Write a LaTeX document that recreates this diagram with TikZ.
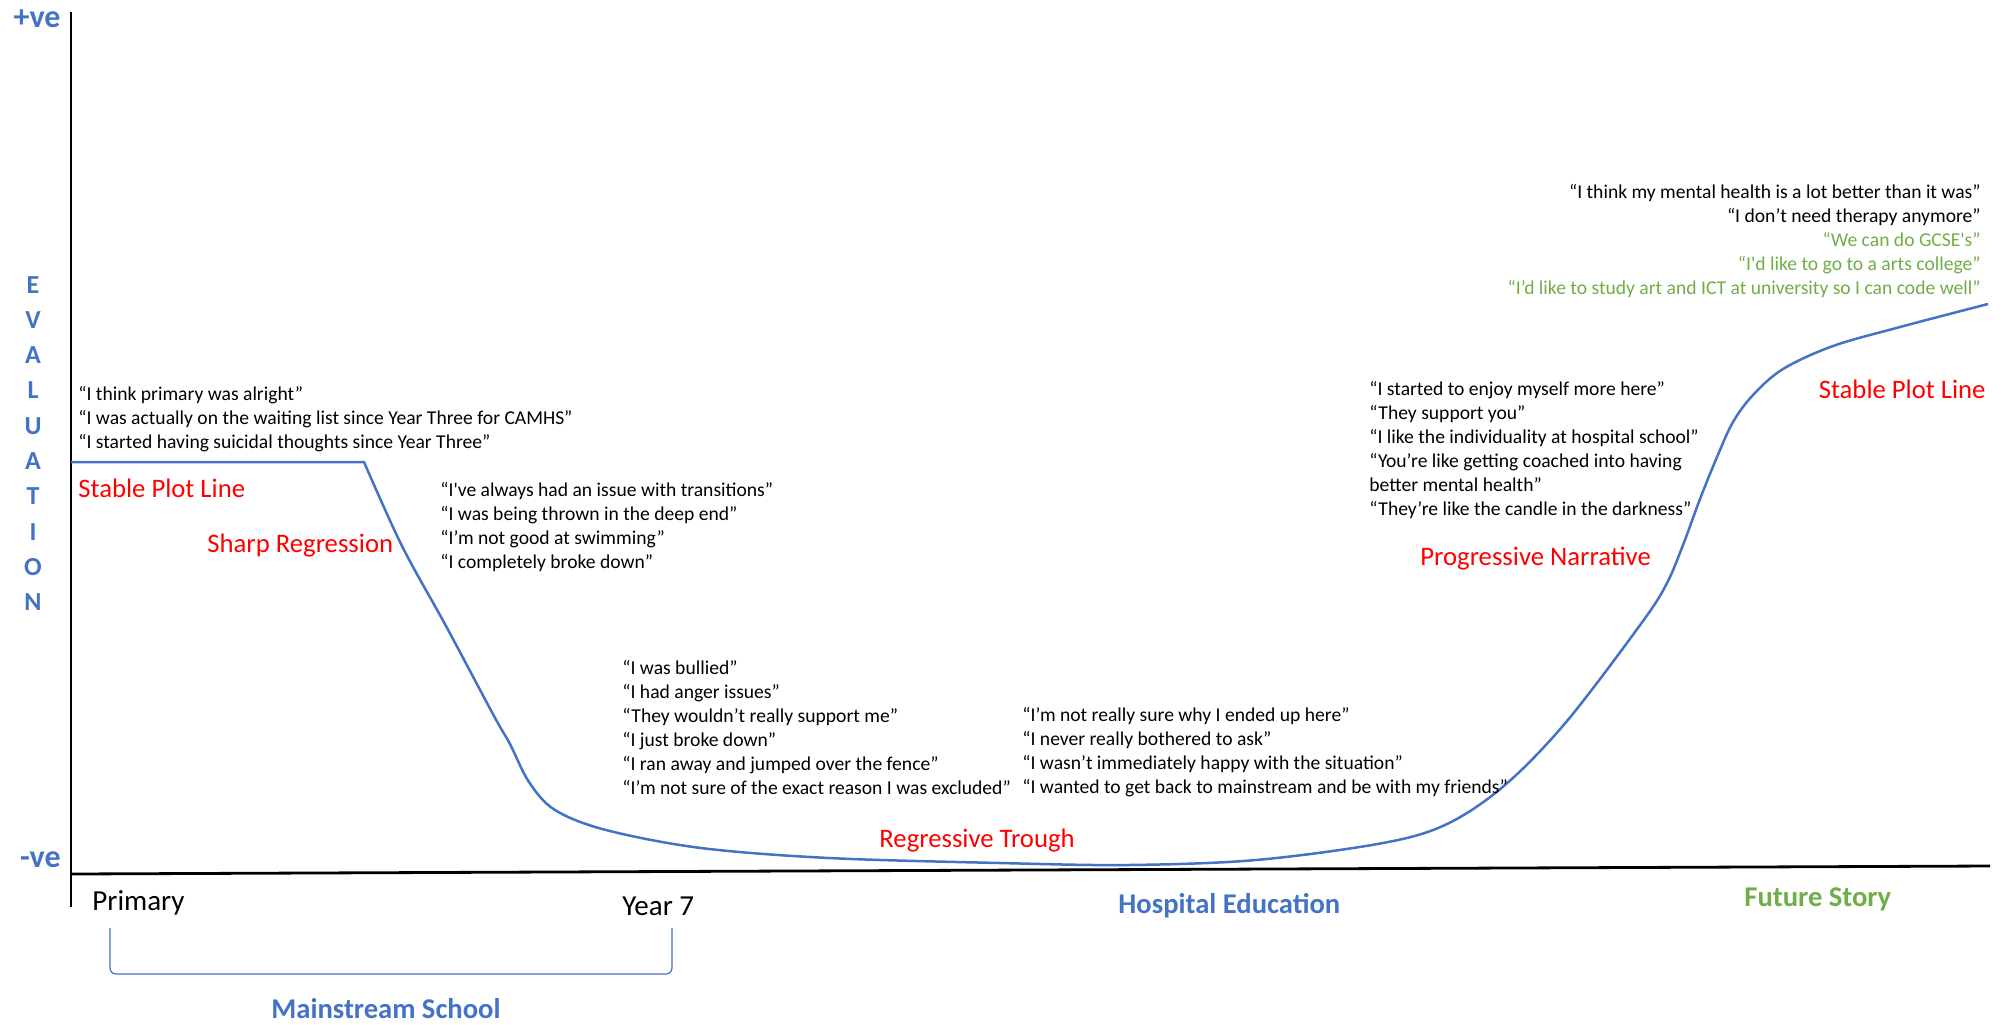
\documentclass[tikz,border=0pt]{standalone}
\usepackage{fontspec}
\setmainfont{Carlito}
\definecolor{evblue}{HTML}{4472C4}
\definecolor{plotred}{HTML}{FF0000}
\definecolor{futuregreen}{HTML}{70AD47}
% stacked lines whose baseline is that of the first line
\newcommand\leftlines[1]{\begin{tabular}[t]{@{}l@{}}#1\end{tabular}}
\newcommand\rightlines[1]{\begin{tabular}[t]{@{}r@{}}#1\end{tabular}}
\newcommand\centerlines[1]{\begin{tabular}[t]{@{}c@{}}#1\end{tabular}}
\begin{document}
\begin{tikzpicture}[x=0.5pt,y=-0.5pt,
  quote/.style={inner sep=0pt, font=\fontsize{9.8}{12}\selectfont},
  phase/.style={anchor=base west, inner sep=0pt, text=plotred, font=\fontsize{13.35}{16}\selectfont},
  era/.style={anchor=base west, inner sep=0pt, text=evblue, font=\bfseries\fontsize{14.3}{17}\selectfont},
  tick/.style={anchor=base west, inner sep=0pt, font=\fontsize{14.5}{17}\selectfont},
  axislabel/.style={inner sep=0pt, text=evblue, font=\bfseries\fontsize{16}{19}\selectfont},
  axisline/.style={line width=1.4pt, black},
  story/.style={line width=1.25pt, evblue, line join=round},
  bracketline/.style={line width=0.6pt, evblue, rounded corners=3pt}]

\useasboundingbox (0,0) rectangle (2002,1024);

% axes
\draw[axisline] (71,12) -- (71,907);
\draw[axisline] (71,874) -- (1990,866);

% axis labels
\node[axislabel, anchor=base east] (pos) at (61,27) {+ve};
\node[axislabel, anchor=base east] (neg) at (61,867) {-ve};
\node[inner sep=0pt, anchor=base, text=evblue, font=\bfseries\fontsize{13}{17.65}\selectfont] (evaluation) at (33,293)
  {\centerlines{E\\V\\A\\L\\U\\A\\T\\I\\O\\N}};

% the story line
\draw[story] (71,462) -- plot[smooth, tension=0.55] coordinates {
  (364,462) (402,546) (446,626) (494,716) (510,744) (529,782) (555,810)
  (606,830) (701,848) (829,858) (1000,863) (1128,865) (1256,860) (1383,843)
  (1447,824) (1505,785) (1567,721) (1643,621) (1667,583) (1683,545) (1700,499)
  (1717,457) (1733,422) (1753,395) (1783,369) (1833,346) (1900,327) (1988,304)};

% phases of the story
\node[phase] (stable1) at (78,497) {Stable Plot Line};
\node[phase] (sharp) at (207,552) {Sharp Regression};
\node[phase] (trough) at (879,847) {Regressive Trough};
\node[phase] (progressive) at (1420,565) {Progressive Narrative};
\node[phase, anchor=base east] (stable2) at (1986,398) {Stable Plot Line};

% quotations
\node[quote, anchor=base west] (primaryq) at (78,400) {\leftlines{%
  “I think primary was alright”\\
  “I was actually on the waiting list since Year Three for CAMHS”\\
  “I started having suicidal thoughts since Year Three”}};
\node[quote, anchor=base west] (transq) at (440,496) {\leftlines{%
  “I\textquotesingle ve always had an issue with transitions”\\
  “I was being thrown in the deep end”\\
  “I’m not good at swimming”\\
  “I completely broke down”}};
\node[quote, anchor=base west] (yearq) at (622,674) {\leftlines{%
  “I was bullied”\\
  “I had anger issues”\\
  “They wouldn’t really support me”\\
  “I just broke down”\\
  “I ran away and jumped over the fence”\\
  “I’m not sure of the exact reason I was excluded”}};
\node[quote, anchor=base west] (hospq) at (1022,721) {\leftlines{%
  “I’m not really sure why I ended up here”\\
  “I never really bothered to ask”\\
  “I wasn’t immediately happy with the situation”\\
  “I wanted to get back to mainstream and be with my friends”}};
\node[quote, anchor=base west] (progq) at (1369,395) {\leftlines{%
  “I started to enjoy myself more here”\\
  “They support you”\\
  “I like the individuality at hospital school”\\
  “You’re like getting coached into having\\
  better mental health”\\
  “They’re like the candle in the darkness”}};
\node[quote, anchor=base east] (futureq) at (1981,198) {\rightlines{%
  “I think my mental health is a lot better than it was”\\
  “I don’t need therapy anymore”\\
  \color{futuregreen}“We can do GCSE\textquotesingle s”\\
  \color{futuregreen}“I\textquotesingle d like to go to a arts college”\\
  \color{futuregreen}“I’d like to study art and ICT at university so I can code well”}};

% time axis
\node[tick] (primary) at (92,910) {Primary};
\node[tick] (year7) at (622,915) {Year 7};
\draw[bracketline] (110,928) -- (110,974) -- (672,974) -- (672,928);
\node[era] (mainstream) at (271,1018) {Mainstream School};
\node[era] (hospital) at (1118,913) {Hospital Education};
\node[era, text=futuregreen] (future) at (1744,906) {Future Story};
\end{tikzpicture}
\end{document}
